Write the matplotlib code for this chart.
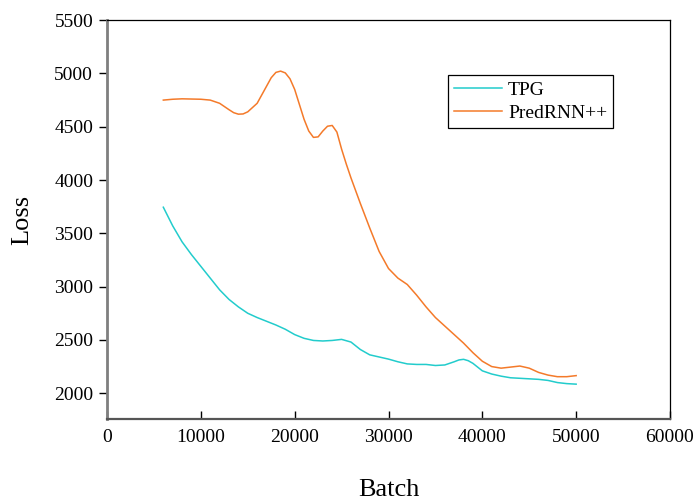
from matplotlib import pyplot as plt

plt.rcParams['font.family'] = ['Liberation Serif', 'DejaVu Serif']

#Data
batch = [6000, 7000, 8000, 9000, 10000, 11000, 12000, 13000, 14000, 15000,
         16000, 17000, 18000, 19000, 20000, 21000, 22000, 23000, 24000, 25000,
         26000, 27000, 28000, 29000, 30000, 31000, 32000, 33000, 34000, 35000,
         36000, 37000, 37500, 38000, 38500, 39000, 40000, 41000, 42000, 43000,
         44000, 45000, 46000, 47000, 48000, 49000, 50000]

tpg_loss = [3745, 3570, 3420, 3300, 3190, 3080, 2970, 2880, 2810, 2750,
            2710, 2675, 2640, 2600, 2550, 2515, 2495, 2490, 2495, 2505,
            2480, 2410, 2360, 2340, 2320, 2295, 2275, 2270, 2270, 2260,
            2265, 2295, 2312, 2318, 2305, 2280, 2210, 2180, 2160, 2145,
            2140, 2135, 2130, 2120, 2100, 2090, 2085]

pred_batch = [6000, 7000, 8000, 9000, 10000, 11000, 12000, 13000, 13500, 14000,
              14500, 15000, 16000, 17000, 17500, 18000, 18500, 19000, 19500, 20000,
              21000, 21500, 22000, 22500, 23000, 23500, 24000, 24500, 25000, 25500,
              26000, 27000, 28000, 29000, 30000, 31000, 32000, 33000, 34000, 35000,
              36000, 37000, 38000, 39000, 40000, 41000, 42000, 43000, 44000, 45000,
              46000, 47000, 48000, 49000, 50000]

pred_loss = [4750, 4758, 4762, 4760, 4758, 4750, 4720, 4660, 4632, 4618,
             4620, 4640, 4720, 4880, 4960, 5010, 5022, 5005, 4950, 4850,
             4570, 4460, 4400, 4405, 4460, 4505, 4512, 4450, 4290, 4150,
             4020, 3780, 3550, 3330, 3170, 3080, 3020, 2920, 2810, 2710,
             2630, 2550, 2470, 2380, 2300, 2250, 2235, 2245, 2255, 2235,
             2195, 2170, 2155, 2155, 2165]

fig = plt.figure(figsize=(6.95, 5.04), dpi=100)
ax = fig.add_axes([0.154, 0.168, 0.81, 0.792])

ax.plot(batch, tpg_loss, color='#22CCCC', linewidth=1.1, label='TPG')
ax.plot(pred_batch, pred_loss, color='#F47A2A', linewidth=1.1, label='PredRNN++')

ax.set_xlim(0, 60000)
ax.set_ylim(1755, 5500)
ax.set_xticks([0, 10000, 20000, 30000, 40000, 50000, 60000])
ax.set_yticks([2000, 2500, 3000, 3500, 4000, 4500, 5000, 5500])

#Spines
ax.spines['left'].set_color('#7f7f7f')
ax.spines['left'].set_linewidth(2)
ax.spines['bottom'].set_color('#555555')
ax.spines['bottom'].set_linewidth(1.6)
ax.spines['top'].set_linewidth(0.9)
ax.spines['right'].set_linewidth(0.9)

ax.tick_params(axis='y', direction='out', length=6, width=1, labelsize=14, pad=4)
ax.tick_params(axis='x', direction='in', length=6, width=1, labelsize=14, pad=7)

ax.set_xlabel('Batch', fontsize=19, labelpad=24)
ax.set_ylabel('Loss', fontsize=19, labelpad=15)

leg = ax.legend(loc='upper right', bbox_to_anchor=(0.899, 0.862), fontsize=14,
                fancybox=False, edgecolor='black', framealpha=1,
                handlelength=2.5, borderpad=0.3, labelspacing=0.3,
                handletextpad=0.3, borderaxespad=0)
leg.get_frame().set_linewidth(0.9)

plt.savefig('out.png', dpi=100)
